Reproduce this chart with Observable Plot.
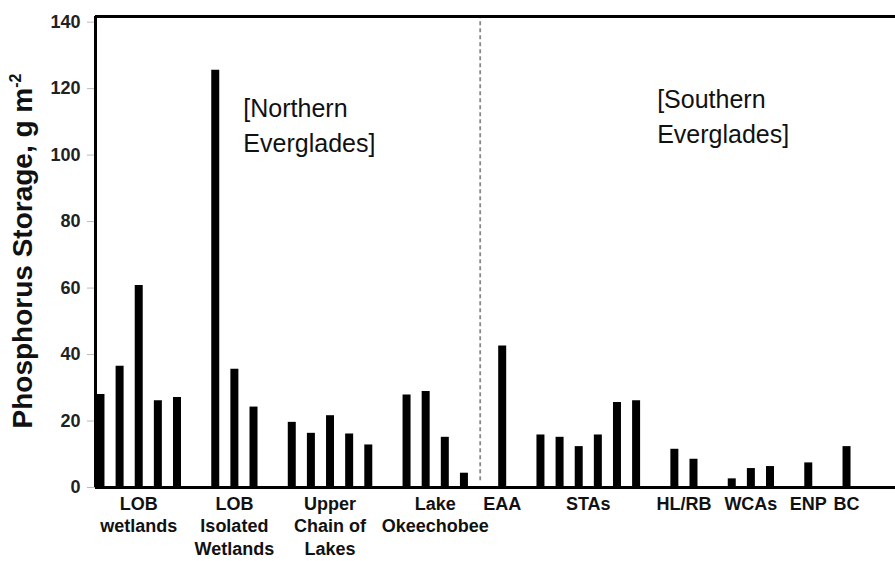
<!DOCTYPE html>
<html><head><meta charset="utf-8">
<script src="https://cdn.jsdelivr.net/npm/d3@7"></script>
<script src="https://cdn.jsdelivr.net/npm/@observablehq/plot@0.6"></script>
<style>body{margin:0;background:#fff;} svg{display:block}</style>
</head><body><div id="chart"></div>
<script>
// Group labels (categories) and their bar values (g m^-2)
const groupLabels = ["LOB\nwetlands", "LOB\nIsolated\nWetlands", "Upper\nChain of\nLakes", "Lake\nOkeechobee",
  "EAA", "STAs", "HL/RB", "WCAs", "ENP", "BC"];
const lobWetlands = [28.0, 36.5, 60.8, 26.1, 27.1];
const lobIsolated = [125.5, 35.6, 24.2];
const upperChain = [19.6, 16.3, 21.6, 16.1, 12.8];
const lakeOkeechobee = [27.8, 28.9, 15.1, 4.3];
const eaa = [42.6];
const stas = [15.8, 15.1, 12.3, 15.8, 25.6, 26.1];
const hlrb = [11.5, 8.5];
const wcas = [2.6, 5.7, 6.3];
const enp = [7.4];
const bc = [12.3];
const groupValues = [lobWetlands, lobIsolated, upperChain, lakeOkeechobee, eaa, stas, hlrb, wcas, enp, bc];

const yTicks = [0, 20, 40, 60, 80, 100, 120, 140];
const yMax = 141.7;
const xDomain = [-0.26, 41.56];
const dividerX = 19.85; // between Northern and Southern Everglades
const notes = ["[Northern\nEverglades]", "[Southern\nEverglades]"];
const noteX = [7.47, 29.1];
const noteY = [119.0, 121.6];

// Build bar slots: consecutive bars per group, one empty slot between groups
const bars = [], groups = [];
let slot = 0;
groupValues.forEach((vals, gi) => {
  const start = slot;
  vals.forEach(v => { bars.push({x: slot, y: v}); slot++; });
  groups.push({label: groupLabels[gi], cx: (start + slot - 1) / 2});
  slot++;
});
const noteData = notes.map((t, i) => ({text: t, x: noteX[i], y: noteY[i]}));

const font = "'Liberation Sans', Arial, Helvetica, sans-serif";
const chart = Plot.plot({
  width: 895, height: 561,
  marginLeft: 95, marginRight: 0, marginTop: 16, marginBottom: 74,
  x: {domain: xDomain, axis: null},
  y: {domain: [0, yMax], axis: null},
  style: {fontFamily: font, background: "white", color: "black"},
  marks: [
    Plot.axisY({ticks: yTicks, tickSize: 8, tickPadding: 7, fontSize: 18, fontWeight: "bold", label: null, stroke: "#bbb", fill: "#222"}),
    Plot.ruleX(bars, {x: "x", y1: 0, y2: "y", stroke: "black", strokeWidth: 8}),
    Plot.ruleX([dividerX], {y1: 2, y2: yMax, stroke: "#888", strokeWidth: 1.8, strokeDasharray: "4,3"}),
    Plot.ruleY([0], {stroke: "black", strokeWidth: 3}),
    Plot.ruleY([yMax], {stroke: "black", strokeWidth: 3}),
    Plot.ruleX([xDomain[0]], {stroke: "black", strokeWidth: 3}),
    Plot.text(groups, {x: "cx", frameAnchor: "bottom", text: "label", dy: 6, lineAnchor: "top",
      fontSize: 18, fontWeight: "bold", lineHeight: 1.26, fill: "#111"}),
    Plot.text(noteData, {x: "x", y: "y", text: "text", textAnchor: "start", lineAnchor: "top",
      fontSize: 25, lineHeight: 1.4, fill: "#111"})
  ]
});
document.getElementById("chart").appendChild(chart);

// Y axis title with superscript
const svg = d3.select(chart);
const t = svg.append("text")
  .attr("transform", "translate(32,251) rotate(-90)")
  .attr("text-anchor", "middle")
  .attr("font-family", font)
  .attr("font-size", 28)
  .attr("font-weight", "bold")
  .attr("fill", "#111");
t.append("tspan").text("Phosphorus Storage, g m");
t.append("tspan").attr("font-size", 16).attr("dy", -11).text("-2");
</script></body></html>
